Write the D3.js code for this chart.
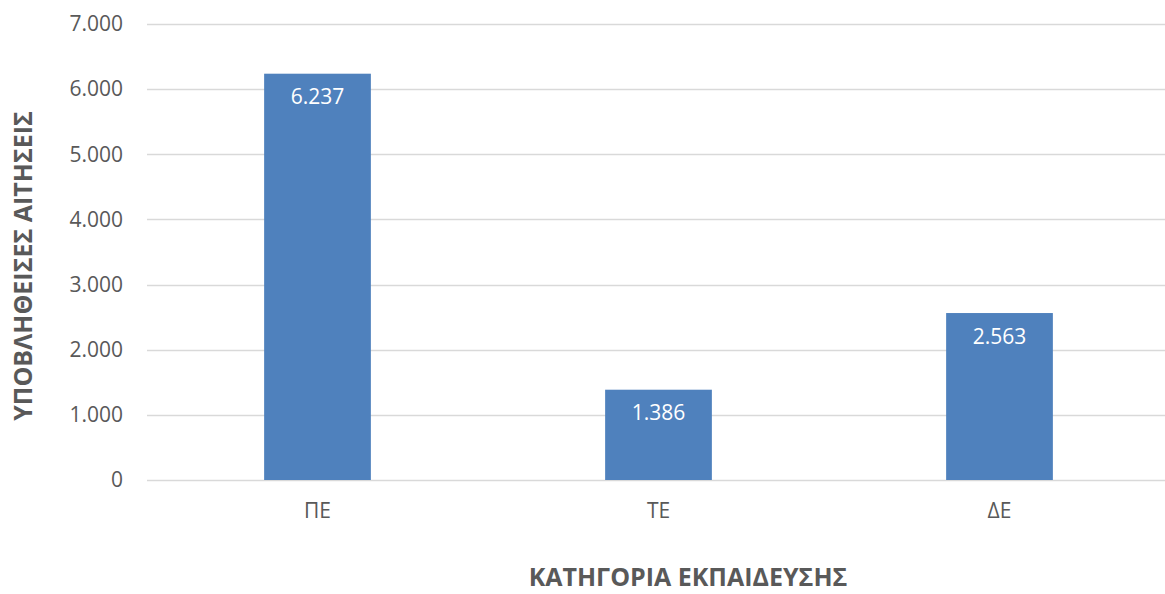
<!DOCTYPE html>
<html>
<head>
<meta charset="utf-8">
<script src="https://cdn.jsdelivr.net/npm/d3@7"></script>
<style>
	body { margin: 0; background: #fff; }
	svg { display: block; font-family: "Open Sans", "Noto Sans", sans-serif; }
	.tick text { fill: #595959; }
</style>
</head>
<body>
<svg id="chart" width="1165" height="594"></svg>
<script>
// data
var categories = ["ΠΕ", "ΤΕ", "ΔΕ"];
var values = [6237, 1386, 2563];
var yTicks = [0, 1000, 2000, 3000, 4000, 5000, 6000, 7000];

var W = 1165, H = 594;
var margin = {top: 24, right: -5, bottom: 114, left: 147};

var svg = d3.select("#chart");

var x = d3.scaleBand()
	.domain(categories)
	.range([margin.left, W - margin.right])
	.paddingInner(0.687)
	.paddingOuter(0.3435);

var y = d3.scaleLinear()
	.domain([0, 7000])
	.range([H - margin.bottom, margin.top]);

var fmt = function(d){
	return d3.format(",")(d).replace(/,/g, ".");
};

// gridlines
svg.append("g")
	.selectAll("line")
	.data(yTicks)
	.enter()
	.append("line")
	.attr("x1", margin.left)
	.attr("x2", W)
	.attr("y1", function(d){ return Math.round(y(d)) + 0.5; })
	.attr("y2", function(d){ return Math.round(y(d)) + 0.5; })
	.attr("stroke", "#d9d9d9")
	.attr("stroke-width", 1.5);

// y axis labels
var yAxis = d3.axisLeft(y)
	.tickValues(yTicks)
	.tickFormat(fmt)
	.tickSize(0)
	.tickPadding(24);

svg.append("g")
	.attr("transform", "translate(" + margin.left + ",0)")
	.call(yAxis)
	.call(function(g){ g.select(".domain").remove(); })
	.selectAll("text")
	.attr("font-size", 21)
	.attr("font-family", "'Open Sans', sans-serif");

// bars
svg.append("g")
	.selectAll("rect")
	.data(values)
	.enter()
	.append("rect")
	.attr("x", function(d, i){ return x(categories[i]); })
	.attr("width", x.bandwidth())
	.attr("y", function(d){ return y(d); })
	.attr("height", function(d){ return y(0) - y(d); })
	.attr("fill", "#4f81bd");

// value labels
svg.append("g")
	.selectAll("text")
	.data(values)
	.enter()
	.append("text")
	.attr("x", function(d, i){ return x(categories[i]) + x.bandwidth() / 2; })
	.attr("y", function(d){ return y(d) + 30.5; })
	.attr("text-anchor", "middle")
	.attr("fill", "#ffffff")
	.attr("font-size", 21)
	.text(fmt);

// x axis labels
var xAxis = d3.axisBottom(x).tickSize(0).tickPadding(23);
svg.append("g")
	.attr("transform", "translate(0," + y(0) + ")")
	.call(xAxis)
	.call(function(g){ g.select(".domain").remove(); })
	.selectAll("text")
	.attr("font-size", 21)
	.attr("font-family", "'Open Sans', sans-serif");

// axis titles
svg.append("text")
	.attr("x", 688)
	.attr("y", 586)
	.attr("text-anchor", "middle")
	.attr("font-weight", "bold")
	.attr("font-size", 25)
	.attr("fill", "#595959")
	.text("ΚΑΤΗΓΟΡΙΑ ΕΚΠΑΙΔΕΥΣΗΣ");

svg.append("text")
	.attr("transform", "translate(32,266) rotate(-90)")
	.attr("text-anchor", "middle")
	.attr("font-weight", "bold")
	.attr("font-size", 25)
	.attr("fill", "#595959")
	.text("ΥΠΟΒΛΗΘΕΙΣΕΣ ΑΙΤΗΣΕΙΣ");
</script>
</body>
</html>
